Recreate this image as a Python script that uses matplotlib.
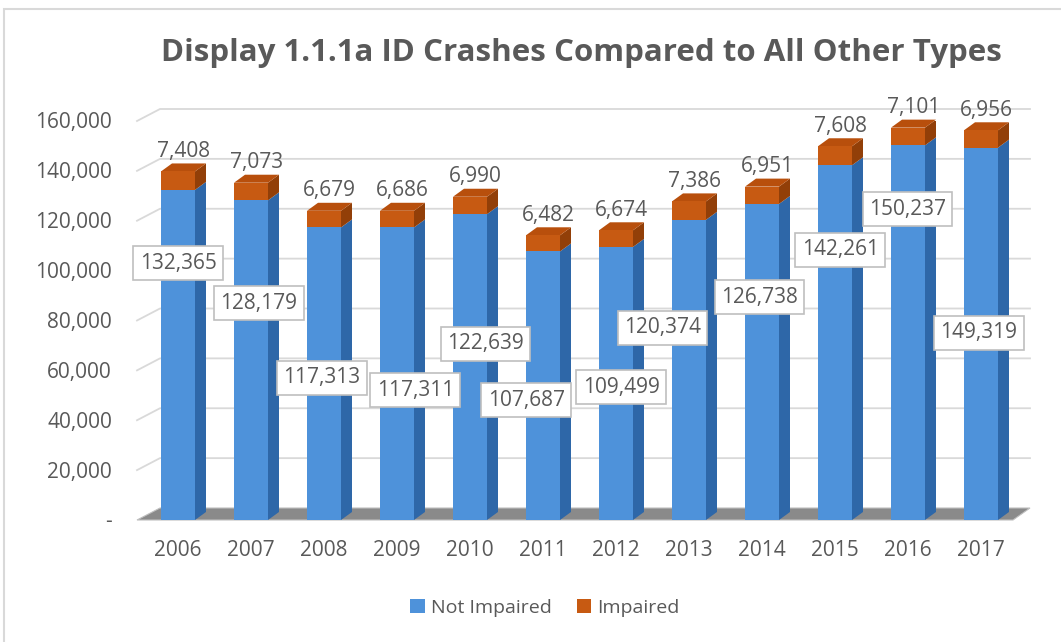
import matplotlib
matplotlib.use("Agg")
import matplotlib.pyplot as plt
from matplotlib.patches import Polygon, Rectangle, Patch

plt.rcParams['font.family'] = ['Open Sans', 'DejaVu Sans']

years = ['2006', '2007', '2008', '2009', '2010', '2011', '2012', '2013', '2014', '2015', '2016', '2017']
not_impaired = [132365, 128179, 117313, 117311, 122639, 107687, 109499, 120374, 126738, 142261, 150237, 149319]
impaired = [7408, 7073, 6679, 6686, 6990, 6482, 6674, 7386, 6951, 7608, 7101, 6956]
y_ticks = [0, 20000, 40000, 60000, 80000, 100000, 120000, 140000, 160000]
y_tick_labels = ['-', '20,000', '40,000', '60,000', '80,000', '100,000', '120,000', '140,000', '160,000']

# manual label placement (layout, not data): offsets in bar units and label heights
label_dx = [0.0, 0.11, -0.03, 0.25, 0.21, -0.23, 0.07, -0.36, -0.03, 0.07, -0.01, -0.03]
label_y = [103000, 87000, 57000, 52100, 70600, 48100, 53300, 77000, 89400, 108300, 124700, 75000]

W, H = 1061, 642
fig = plt.figure(figsize=(W / 100, H / 100), dpi=100)

px_left, px_right, px_bottom, px_top = 137, 1030, 520, 121
ax = fig.add_axes([px_left / W, 1 - px_bottom / H, (px_right - px_left) / W, (px_bottom - px_top) / H])
x0_px, step_px = 178, 73
ax.set_xlim((px_left - x0_px) / step_px, (px_right - x0_px) / step_px)
ax.set_ylim(0, 160000)
ax.axis('off')

upx = 1 / step_px
vpx = 160000 / (px_bottom - px_top)

grid_c = '#D9D9D9'
text_c = '#595959'
fs = 15

wdx, wdy = 23 * upx, 12 * vpx
xl, xr = ax.get_xlim()
for t, lab in zip(y_ticks, y_tick_labels):
    if t > 0:
        ax.plot([xl, xl + wdx, xr], [t, t + wdy, t + wdy], color=grid_c, lw=1.3, clip_on=False, zorder=1)
    ax.text(xl - 25 * upx, t - 2 * vpx, lab, ha='right', va='center', fontsize=fs, color=text_c)

floor = Polygon([(xl, 0), (xr - wdx + 6 * upx, 0), (xr, wdy), (xl + wdx, wdy)], closed=True,
                facecolor='#8A8A8A', edgecolor='#BFBFBF', lw=0.8, zorder=2, clip_on=False)
ax.add_patch(floor)

xs = list(range(len(years)))
bw = 34 * upx
bdx, bdy = 11 * upx, 8 * vpx

blue_f, blue_s = '#4E92DA', '#2E67A8'
org_f, org_s, org_t = '#C75A12', '#923F08', '#B84F0C'

ax.bar(xs, not_impaired, width=bw, color=blue_f, zorder=4)
ax.bar(xs, impaired, bottom=not_impaired, width=bw, color=org_f, zorder=4)

for x, a, b in zip(xs, not_impaired, impaired):
    r = x + bw / 2
    l = x - bw / 2
    tot = a + b
    ax.add_patch(Polygon([(r, 0), (r + bdx, bdy), (r + bdx, a + bdy), (r, a)], facecolor=blue_s, lw=0, zorder=3))
    ax.add_patch(Polygon([(r, a), (r + bdx, a + bdy), (r + bdx, tot + bdy), (r, tot)], facecolor=org_s, lw=0, zorder=3))
    ax.add_patch(Polygon([(l, tot), (r, tot), (r + bdx, tot + bdy), (l + bdx, tot + bdy)], facecolor=org_t, lw=0,
                         zorder=3, clip_on=False))
    ax.annotate(f'{b:,}', (x + bdx / 2, tot + bdy), xytext=(0, 1), textcoords='offset points',
                ha='center', va='bottom', fontsize=fs, color=text_c, zorder=6, annotation_clip=False)

for x, a, dx, ly in zip(xs, not_impaired, label_dx, label_y):
    ax.text(x + dx, ly, f'{a:,}', ha='center', va='center', fontsize=fs, color=text_c, zorder=7,
            bbox=dict(boxstyle='square,pad=0.3', facecolor='white', edgecolor='#BFBFBF', lw=1.2))

for x, yr in zip(xs, years):
    ax.text(x, -31 * vpx, yr, ha='center', va='center', fontsize=fs, color=text_c)

fig.text(581 / W, 1 - 53 / H, 'Display 1.1.1a ID Crashes Compared to All Other Types', ha='center', va='center',
         fontsize=22.5, fontweight='bold', color=text_c)

handles = [Patch(facecolor=blue_f, edgecolor='none'), Patch(facecolor=org_f, edgecolor='none')]
fig.legend(handles, ['Not Impaired', 'Impaired'], loc='center', bbox_to_anchor=(545 / W, 1 - 608 / H), ncol=2,
           frameon=False, fontsize=14, handlelength=0.75, handleheight=0.75, handletextpad=0.3, columnspacing=1.3,
           labelcolor=text_c)

fig.patches.append(Rectangle((4 / W, -0.1), 1.2, 1 - 9 / H + 0.1, transform=fig.transFigure,
                             facecolor='none', edgecolor='#D9D9D9', lw=1.5))

fig.savefig('out.png', dpi=100)
